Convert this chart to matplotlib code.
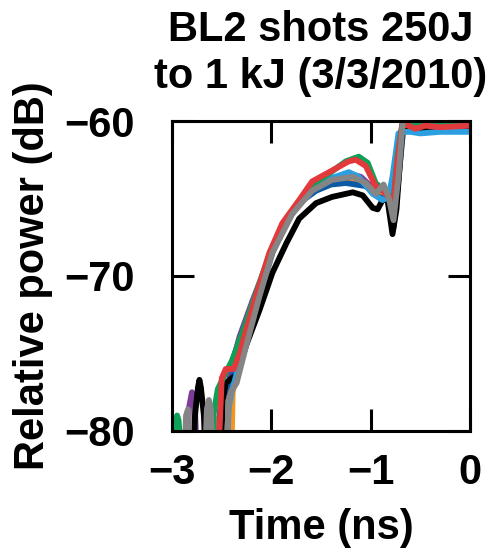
import matplotlib
matplotlib.use("Agg")
import matplotlib.pyplot as plt

plt.rcParams['font.family'] = ['Liberation Sans', 'DejaVu Sans']
plt.rcParams['font.weight'] = 'bold'

# time (ns) / relative power (dB) per shot
purple_t = [-2.86, -2.83, -2.80, -2.77, -2.74, -2.46, -2.42, -2.38, -2.32, -2.19, -1.99, -1.85, -1.70,
            -1.55, -1.40, -1.22, -1.10, -1.00, -0.93, -0.87, -0.82, -0.77, -0.73, -0.68, -0.6, 0]
purple_db = [-84, -78.5, -77.5, -78.5, -84, -84, -76.5, -75.3, -73.9, -71.6, -68.3, -66.3, -65.0,
             -64.2, -63.7, -63.4, -63.6, -64.2, -64.6, -64.4, -65.0, -66.0, -63.5, -60.3, -60.4, -60.4]

orange_t = [-2.61, -2.59, -2.57, -2.55, -2.53, -2.41, -2.39, -2.35, -2.25, -2.12, -1.99, -1.85, -1.70,
            -1.55, -1.40, -1.25, -1.05, -0.92, -0.82, -0.77, -0.72, -0.67, -0.6, 0]
orange_db = [-84, -79.7, -79.2, -79.7, -84, -84, -77.5, -76.0, -74.0, -71.2, -68.4, -66.4, -65.1,
             -64.4, -64.0, -63.9, -64.1, -64.8, -65.0, -66.5, -63.6, -60.4, -60.5, -60.5]

dblue_t = [-2.54, -2.52, -2.50, -2.48, -2.45, -2.40, -2.35, -2.25, -2.12, -1.99, -1.85, -1.70, -1.55,
           -1.40, -1.25, -1.05, -0.92, -0.82, -0.77, -0.72, -0.67, -0.6, 0]
dblue_db = [-84, -78.8, -78.0, -77.6, -77.2, -76.6, -75.8, -73.9, -71.3, -68.5, -66.5, -65.2, -64.5,
            -64.1, -64.0, -64.2, -64.9, -65.1, -66.9, -63.8, -60.4, -60.5, -60.5]

black_t = [-2.80, -2.77, -2.74, -2.725, -2.71, -2.68, -2.65, -2.52, -2.49, -2.46, -2.40, -2.35, -2.25,
           -2.12, -1.99, -1.85, -1.72, -1.55, -1.39, -1.18, -1.08, -0.98, -0.93, -0.88, -0.83, -0.78,
           -0.74, -0.68, -0.6, -0.4, -0.2, 0]
black_db = [-84, -79, -77.2, -76.7, -77.2, -79, -84, -84, -78, -76.9, -76.6, -76.4, -74.4,
            -72.2, -69.8, -67.9, -66.3, -65.3, -64.9, -64.6, -64.8, -65.6, -65.7, -65.1, -65.1, -67.3,
            -65.7, -60.5, -60.6, -60.6, -60.6, -60.6]

lblue_t = [-2.46, -2.43, -2.40, -2.35, -2.25, -2.12, -1.99, -1.85, -1.70, -1.55, -1.40, -1.22, -1.12,
           -0.98, -0.88, -0.82, -0.78, -0.72, -0.68, -0.6, -0.5, -0.3, 0]
lblue_db = [-84, -78.5, -77.5, -76.3, -74.0, -71.0, -68.3, -66.3, -65.0, -64.2, -63.7, -63.3, -63.6,
            -64.7, -65.1, -64.9, -63.6, -60.8, -60.7, -60.7, -60.8, -60.7, -60.7]

green_t = [-3.0, -2.985, -2.965, -2.95, -2.935, -2.915, -2.90, -2.62, -2.58, -2.54, -2.48, -2.40, -2.30,
           -2.18, -2.02, -1.88, -1.72, -1.58, -1.40, -1.25, -1.12, -1.03, -0.95, -0.88, -0.82, -0.77,
           -0.73, -0.68, -0.6, -0.4, -0.2, 0]
green_db = [-84, -81, -79.3, -79.0, -79.3, -81, -84, -84, -78.8, -77.3, -76.5, -75.5, -73.8,
            -71.6, -68.6, -66.6, -65.2, -64.1, -63.3, -62.6, -62.3, -62.7, -64.0, -64.4, -64.8, -65.2,
            -62.3, -60.1, -60.1, -60.2, -60.1, -60.1]

red_t = [-2.55, -2.50, -2.46, -2.38, -2.32, -2.25, -2.15, -2.02, -1.89, -1.72, -1.59, -1.39, -1.22,
         -1.15, -1.05, -0.95, -0.88, -0.82, -0.77, -0.73, -0.68, -0.62, -0.55, -0.45, -0.3, 0]
red_db = [-84, -76.6, -76.0, -76.0, -75.0, -73.4, -71.2, -68.5, -66.6, -65.1, -63.9, -63.2, -62.6,
          -62.5, -62.9, -64.2, -64.5, -64.9, -65.3, -62.5, -60.2, -60.3, -60.5, -60.3, -60.4, -60.3]

gray_t = [-2.89, -2.86, -2.84, -2.82, -2.68, -2.65, -2.63, -2.61, -2.58, -2.47, -2.43, -2.40, -2.35,
          -2.25, -2.12, -1.99, -1.79, -1.59, -1.39, -1.18, -1.05, -0.95, -0.87, -0.82, -0.77, -0.72,
          -0.67, -0.6, 0]
gray_db = [-84, -79.0, -78.6, -84, -84, -78.6, -78.0, -78.6, -84, -84, -78.0, -77.4, -76.9,
           -74.4, -71.3, -68.5, -66.0, -64.5, -63.8, -63.6, -64.0, -64.7, -64.1, -64.9, -66.4, -63.6,
           -59.6, -59.5, -59.5]

shots = [
    (purple_t, purple_db, '#7d3c98'),
    (orange_t, orange_db, '#f7941d'),
    (dblue_t, dblue_db, '#0b5aa6'),
    (black_t, black_db, '#000000'),
    (lblue_t, lblue_db, '#2b9fe0'),
    (green_t, green_db, '#0fa058'),
    (red_t, red_db, '#e2393c'),
    (gray_t, gray_db, '#858585'),
]

fig = plt.figure(figsize=(4.89, 5.5), dpi=100)
ax = fig.add_axes([0.352, 0.2164, 0.609, 0.5636])

for t, db, c in shots:
    ax.plot(t, db, color=c, lw=4.2, solid_joinstyle='round', solid_capstyle='round')

ax.set_xlim(-3, 0)
ax.set_ylim(-80, -60)
ax.set_xticks([-3, -2, -1, 0])
ax.set_yticks([-80, -70, -60])
ax.tick_params(direction='in', top=True, right=True, length=16, width=2.2,
               labelsize=30)
ax.tick_params(axis='y', pad=27)
ax.tick_params(axis='x', pad=16)
for s in ax.spines.values():
    s.set_linewidth(2.2)

ax.set_xlabel('Time (ns)', fontsize=30, fontweight='bold', labelpad=11)
ax.set_ylabel('Relative power (dB)', fontsize=30, fontweight='bold', labelpad=8)
ax.set_title('BL2 shots 250J\nto 1 kJ (3/3/2010)', fontsize=30, fontweight='bold',
             pad=24, linespacing=1.2)

fig.savefig('out.png', dpi=100)
